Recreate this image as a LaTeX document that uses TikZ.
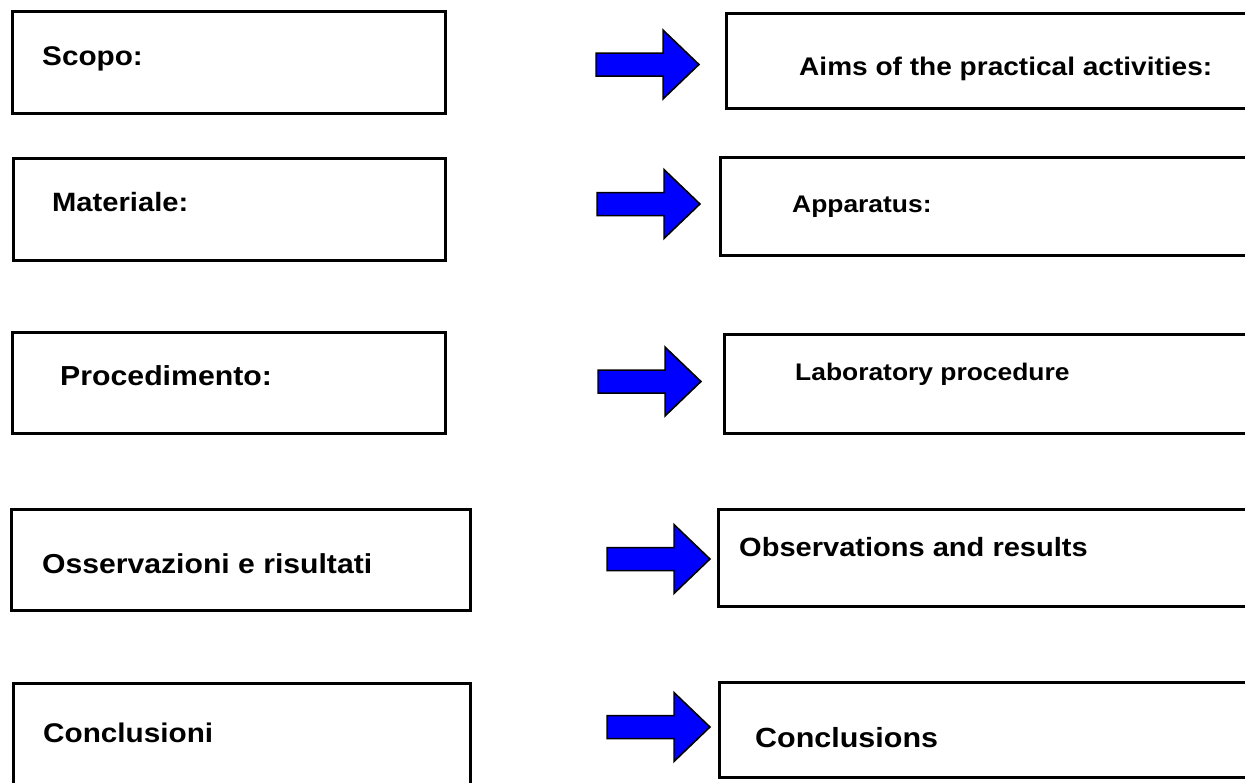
\documentclass[tikz,border=0pt]{standalone}
\usepackage{fontspec}
\setmainfont{Liberation Sans}[FakeStretch=1.1]
\tikzset{
  box/.style={draw=black, line width=3pt},
  lbl/.style={anchor=base west, inner sep=0pt,
    font=\bfseries\fontsize{#1}{#1}\selectfont},
  bluearrow/.pic={code={%
      \draw [fill=blue, line width=1.5pt, line join=miter]
        (0,-11.5) -- (67,-11.5) -- (67,-34.5) -- (103,0)
        -- (67,34.5) -- (67,11.5) -- (0,11.5) -- cycle;
  }}
}
\begin{document}
\begin{tikzpicture}[x=1pt, y=-1pt]
    \clip (0,0) rectangle (1245,782);

    % corners of the boxes
    \coordinate (L1a) at (12,11);   \coordinate (L1b) at (445,113);
    \coordinate (L2a) at (13,158);  \coordinate (L2b) at (445,260);
    \coordinate (L3a) at (12,332);  \coordinate (L3b) at (445,433);
    \coordinate (L4a) at (11,509);  \coordinate (L4b) at (470,610);
    \coordinate (L5a) at (13,683);  \coordinate (L5b) at (470,792);
    \coordinate (R1a) at (726,13);  \coordinate (R1b) at (1260,108);
    \coordinate (R2a) at (720,157); \coordinate (R2b) at (1260,255);
    \coordinate (R3a) at (724,334); \coordinate (R3b) at (1260,433);
    \coordinate (R4a) at (718,509); \coordinate (R4b) at (1260,606);
    \coordinate (R5a) at (719,682); \coordinate (R5b) at (1260,777);

    % draw boxes
    \draw [box] (L1a) rectangle (L1b);
    \draw [box] (L2a) rectangle (L2b);
    \draw [box] (L3a) rectangle (L3b);
    \draw [box] (L4a) rectangle (L4b);
    \draw [box] (L5a) rectangle (L5b);
    \draw [box] (R1a) rectangle (R1b);
    \draw [box] (R2a) rectangle (R2b);
    \draw [box] (R3a) rectangle (R3b);
    \draw [box] (R4a) rectangle (R4b);
    \draw [box] (R5a) rectangle (R5b);

    % arrows
    \path (596,64.5) pic {bluearrow};
    \path (597,204) pic {bluearrow};
    \path (598,381.5) pic {bluearrow};
    \path (607,559) pic {bluearrow};
    \path (607,727) pic {bluearrow};

    % add labels
    \node [lbl=27] (scopo) at (42,65) {Scopo:};
    \node [lbl=26.5] (materiale) at (52,211) {Materiale:};
    \node [lbl=27.5] (procedimento) at (60,385) {Procedimento:};
    \node [lbl=27.4] (osservazioni) at (42,573) {Osservazioni e risultati};
    \node [lbl=27] (conclusioni) at (43,742) {Conclusioni};
    \node [lbl=25.5] (aims) at (799,75) {Aims of the practical activities:};
    \node [lbl=24] (apparatus) at (792,212) {Apparatus:};
    \node [lbl=24] (procedure) at (795,380) {Laboratory procedure};
    \node [lbl=26.4] (observations) at (739,556) {Observations and results};
    \node [lbl=27.7] (conclusions) at (755,747) {Conclusions};
\end{tikzpicture}
\end{document}
